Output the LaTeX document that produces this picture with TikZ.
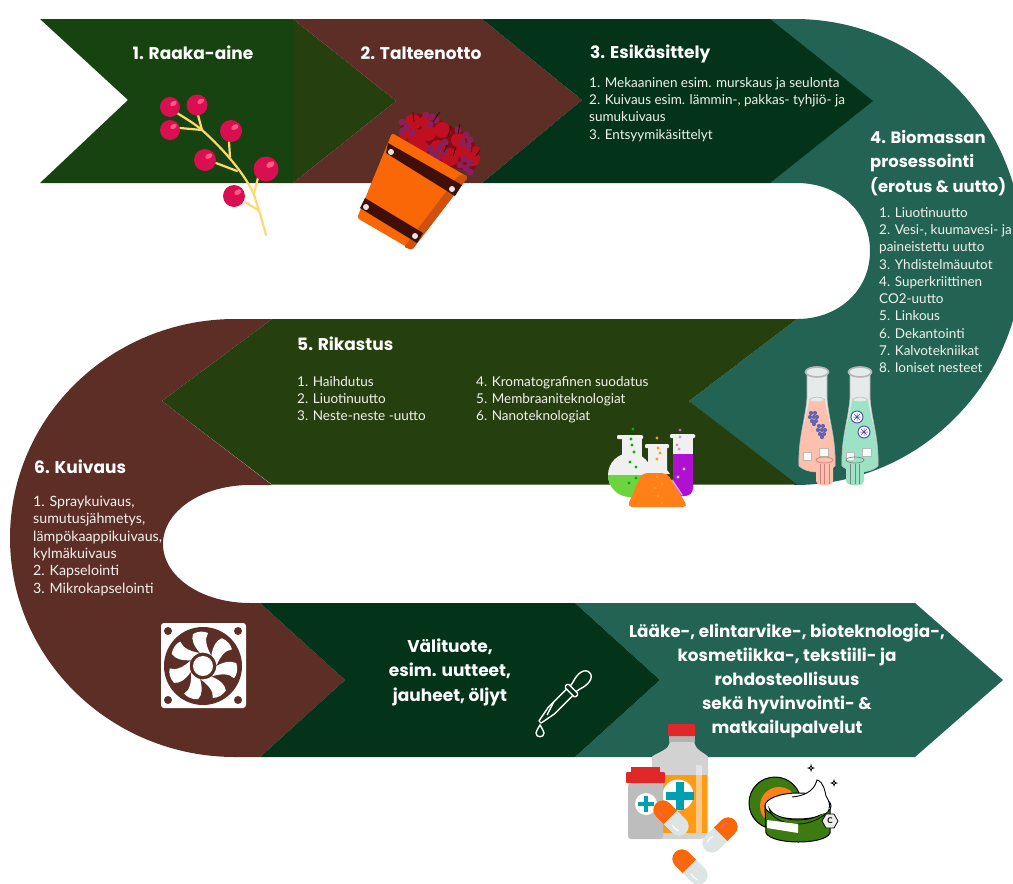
\documentclass[tikz,border=0pt]{standalone}
\usepackage{fontspec}
\setmainfont{Lato}
\newfontfamily\headf{Poppins}
\definecolor{cgreen}{HTML}{16430F}
\definecolor{colive}{HTML}{253F0E}
\definecolor{cbrown}{HTML}{5D2E25}
\definecolor{cdark}{HTML}{03341A}
\definecolor{cteal}{HTML}{236354}
\definecolor{ctext}{HTML}{F2F2EC}
\definecolor{berry}{HTML}{D90F52}
\definecolor{berryhi}{HTML}{FF5C85}
\definecolor{stem}{HTML}{FFD970}
\definecolor{bucket}{HTML}{F96706}
\definecolor{bucketd}{HTML}{D1500F}
\definecolor{strap}{HTML}{3F100A}
\definecolor{apple}{HTML}{C01020}
\definecolor{grape}{HTML}{8A1F5A}
\definecolor{glassw}{HTML}{F0F0F0}
\definecolor{lgreen}{HTML}{6BD43F}
\definecolor{lorange}{HTML}{FF8019}
\definecolor{lpurple}{HTML}{B010D0}
\definecolor{cpink}{HTML}{FDC0AD}
\definecolor{cmint}{HTML}{9BE3C4}
\definecolor{cglass}{HTML}{E6EAEA}
\definecolor{cedge}{HTML}{B5B5B5}
\definecolor{capred}{HTML}{E02828}
\definecolor{bgrey}{HTML}{D2D2D2}
\definecolor{lblor}{HTML}{FF9A14}
\definecolor{cross}{HTML}{00A0B0}
\definecolor{pillor}{HTML}{F96706}
\definecolor{pillg}{HTML}{DCE4E4}
\definecolor{jarg}{HTML}{3D7A10}
\tikzset{
  x=1pt,y=-1pt,
  head/.style={font=\headf\bfseries\fontsize{17}{24.5}\selectfont,text=white,inner sep=0pt,align=left},
  headb/.style={font=\headf\bfseries\fontsize{16.4}{24.5}\selectfont,text=white,inner sep=0pt,align=left},
  headc/.style={font=\headf\bfseries\fontsize{17}{24.5}\selectfont,text=white,inner sep=0pt,align=center},
  body/.style={font=\fontsize{13.5}{17.3}\selectfont,text=ctext,inner sep=0pt,align=left,anchor=north west},
}
\newcommand{\pill}[3]{%
  \begin{scope}[shift={(#1,#2)},rotate=#3]
    \fill[pillg,rounded corners=9.5pt] (-21,-9.5) rectangle (21,9.5);
    \begin{scope}
      \clip (1,-11) rectangle (23,11);
      \fill[pillor,rounded corners=9.5pt] (-21,-9.5) rectangle (21,9.5);
    \end{scope}
    \draw[berryhi,line width=1.2pt,line cap=round] (14,-4) .. controls (11,-5) and (8,-5) .. (6,-4);
    \draw[white,line width=1.2pt,line cap=round] (-14,-4) .. controls (-11,-5) and (-8,-5) .. (-6,-4);
  \end{scope}}
\newcommand{\sparkle}[2]{%
  \fill[black] (#1,#2-4) -- (#1+1,#2-1) -- (#1+4,#2) -- (#1+1,#2+1) -- (#1,#2+4) -- (#1-1,#2+1) -- (#1-4,#2) -- (#1-1,#2-1) -- cycle;
  \fill[white] (#1,#2) circle [radius=0.8];}
\newcommand{\crossmark}[3]{%
  \fill[cross] (#1-#3,#2-#3*0.3) rectangle (#1+#3,#2+#3*0.3);
  \fill[cross] (#1-#3*0.3,#2-#3) rectangle (#1+#3*0.3,#2+#3);}
\newcommand{\carafe}[2]{%
  \begin{scope}[shift={(#1,372)}]
    \fill[cglass] (-10,0) -- (10,0) -- (10,26) .. controls (12,50) and (19,66) .. (18,94) .. controls (10,102) and (-10,102) .. (-18,94) .. controls (-19,66) and (-12,50) .. (-10,26) -- cycle;
    \fill[#2] (-8,28) .. controls (-11,50) and (-19,66) .. (-18,94) .. controls (-10,102) and (10,102) .. (18,94) .. controls (19,66) and (11,50) .. (8,28) .. controls (4,30) and (-4,30) .. (-8,28) -- cycle;
    \draw[cedge,line width=0.6pt] (-10,0) -- (-10,26) .. controls (-12,50) and (-19,66) .. (-18,94) .. controls (-10,102) and (10,102) .. (18,94) .. controls (19,66) and (12,50) .. (10,26) -- (10,0);
    \draw[cedge,line width=0.5pt] (-8,28) .. controls (-4,24) and (4,24) .. (8,28);
    \fill[cglass] (0,0) ellipse [x radius=12,y radius=5.5];
    \draw[cedge,line width=1.6pt] (0,0) ellipse [x radius=11.5,y radius=5];
    \draw[cedge,line width=0.6pt,fill=white,opacity=.9] (-14,80) rectangle (-6,88);
    \draw[cedge,line width=0.6pt,fill=white,opacity=.9] (2,76) rectangle (11,84);
  \end{scope}}
\begin{document}
\begin{tikzpicture}
\useasboundingbox (0,0) rectangle (1013,884);
\clip (0,0) rectangle (1013,884);
\fill[white] (0,0) rectangle (1013,884);

%% ---------- bands ----------
\fill[cgreen] (40,19) -- (293,19) -- (293,183) -- (40,183) -- (128,100) -- cycle;
\fill[colive] (293,19) -- (396,101) -- (293,183) -- cycle;
\fill[cbrown] (293,19) -- (482,19) -- (582,100) -- (482,183) -- (293,183) -- (396,101) -- cycle;
% stage 4 ring
\fill[cteal] (770,19) -- (795,19)
  .. controls (920.9,19) and (1023,123.3) .. (1023,252)
  .. controls (1023,380.7) and (920.9,485) .. (795,485)
  -- (689,401) -- (797,319)
  .. controls (838,319) and (870,291) .. (870,251)
  .. controls (870,211) and (838,183) .. (797,183)
  -- (770,183) -- cycle;
\fill[cdark] (482,19) -- (770,19) -- (873,101) -- (770,183) -- (482,183) -- (582,100) -- cycle;
\fill[colive] (797,319) -- (689,401) -- (797,484.5) -- (272,484.5) -- (162,401) -- (272,319) -- cycle;
% stage 6 ring
\fill[cbrown] (272,319) -- (162,401) -- (272,485) -- (250,485)
  .. controls (202,485) and (163,511) .. (163,544)
  .. controls (163,577) and (202,603) .. (250,603)
  -- (260,603) -- (345,680) -- (260,757) -- (235,757)
  .. controls (111,757) and (10,659) .. (10,538)
  .. controls (10,417) and (111,319) .. (235,319) -- cycle;
\fill[cteal] (575,603) -- (915,603) -- (1003,680) -- (915,757) -- (575,757) -- (660,680) -- cycle;
\fill[cdark] (260,603) -- (575,603) -- (660,680) -- (575,757) -- (260,757) -- (345,680) -- cycle;

%% ---------- berry branch ----------
\begin{scope}[stem,line width=2.2pt,line cap=round]
  \draw (266,235) .. controls (262,220) and (258,207) .. (254,195) .. controls (248,180) and (230,155) .. (202,130) .. controls (195,124) and (185,118) .. (177,113);
  \draw (198,115) -- (202,130) (180,128) -- (202,130);
  \draw (229,142) -- (230,157);
  \draw (216,163) -- (237,171);
  \draw (258,178) -- (254,193);
  \draw (245,202) -- (258,210);
\end{scope}
\foreach \bx/\by/\br in {170/107/10,197/105/10.5,170/130/10,231/131/11,205/160/11,266/169/12.5,234/196/11}{
  \fill[berry] (\bx,\by) circle [radius=\br];
  \fill[berryhi,rotate around={30:(\bx+\br*0.35,\by-\br*0.35)}] (\bx+\br*0.35,\by-\br*0.35) ellipse [x radius=\br*0.35,y radius=\br*0.22];
}

%% ---------- bucket of fruit ----------
\fill[apple!70!black,rounded corners=5pt] (398,128) -- (412,114) -- (432,114) -- (450,126) -- (468,134) -- (480,152) -- (474,172) -- (440,165) -- cycle;
\foreach \gx/\gy/\gr in {417/138/9,413/122/8,450/157/9,442/130/8,463/150/8,473/159/7,428/133/8,458/140/7,405/133/6,425/122/6,438/148/8,422/148/7,476/150/4}{
  \fill[apple] (\gx,\gy) circle [radius=\gr];}
\foreach \gx/\gy in {402/122,407/127,403/131,412/133,426/115,432/117,436/120,430/124,440/146,436/152,430/148,444/152,438/158,432/154,445/142,460/165,466/168,470/163,464/159,470/172,466/135,462/142,470/140,468/146,458/130}{
  \fill[grape] (\gx,\gy) circle [radius=3.6];}
\draw[strap,line width=1pt] (413,112) -- (414,122) (440,112) .. controls (437,115) and (436,118) .. (433,122) (451,126) -- (448,136) (460,124) -- (458,134) (480,150) -- (476,156) (447,145) -- (444,152) (456,147) -- (453,156);
\fill[bucket,rounded corners=2.5pt] (392,133) -- (468,177) -- (412,250) -- (357,218) -- cycle;
\fill[bucketd,rounded corners=2pt] (468,177) -- (412,250) -- (404,247) -- (458,176) -- (463,174) -- cycle;
\fill[strap] (386,153) -- (388,143) -- (462,185) -- (455,196) -- cycle;
\fill[strap] (360,208) -- (365,198) -- (423,233) -- (417,243) -- cycle;
\foreach \rx/\ry in {391/152,452/189,366/207,415/236}{
  \fill[white!90!black] (\rx,\ry) circle [radius=3];}

%% ---------- flasks ----------
\fill[lpurple,rounded corners=8pt] (673,454) rectangle (693,496);
\fill[lpurple] (673,454) rectangle (693,480);
\fill[glassw] (673,437) rectangle (693,454);
\fill[glassw,rounded corners=1pt] (670,434) rectangle (695,438);
\fill[glassw] (630,475) circle [radius=22];
\begin{scope}
  \clip (600,475) rectangle (660,500);
  \fill[lgreen] (630,475) circle [radius=22];
\end{scope}
\fill[glassw] (622,437) rectangle (642,462);
\fill[glassw,rounded corners=1pt] (617,435) rectangle (643,439);
\fill[glassw] (648,446) -- (667,446) -- (667,470) -- (670,474) -- (642,474) -- (648,467) -- cycle;
\fill[glassw,rounded corners=1pt] (645,444) rectangle (669,448);
\fill[lorange,rounded corners=5pt] (642,473) -- (667,473) -- (688,507) -- (627,507) -- cycle;
\draw[white,opacity=.6,line width=1.5pt,line cap=round] (672,480) -- (682,495);
\foreach \dx/\dy/\dc in {633/429/green!70!black,631/439/green!70!black,632/445/green!70!black,634/452/green!70!black,630/462/green!70!black,636/467/green!70!black,629/483/green!70!black,636/478/green!70!black,657/438/lblor,658/448/lblor,660/453/lblor,657/459/lblor,657/477/lblor,662/484/lblor,655/488/lblor,658/496/lblor,662/503/lblor,680/430/violet!60,680/437/violet!40,677/445/violet!40,679/449/violet!40,684/469/violet!20,678/477/violet!20}{
  \fill[\dc] (\dx,\dy) circle [radius=1.6];}

%% ---------- carafes ----------
\carafe{817}{cpink}
\carafe{860}{cmint}
\foreach \ax/\ay in {814/418,822/431}{
  \foreach \ox/\oy in {-3/-5,1/-5,-4/-1,0/-1,3/-1,-2/3,2/3,0/6}{
    \fill[blue!35!gray!90] (\ax+\ox,\ay+\oy) circle [radius=2.1];}}
\foreach \ax/\ay in {857/417,864/432}{
  \fill[white] (\ax,\ay) circle [radius=6];
  \draw[gray!60!blue,line width=0.9pt] (\ax,\ay) circle [radius=6];
  \draw[gray!60!blue,line width=0.5pt] (\ax-4,\ay) -- (\ax+4,\ay) (\ax,\ay-4) -- (\ax,\ay+4) (\ax-3,\ay-3) -- (\ax+3,\ay+3) (\ax-3,\ay+3) -- (\ax+3,\ay-3);
}
\fill[cpink,rounded corners=2pt] (816,460) -- (833,460) -- (833,483) .. controls (828,486) and (821,486) .. (816,483) -- cycle;
\draw[cedge!70!red,line width=0.7pt] (824.5,460) ellipse [x radius=8.5,y radius=3];
\foreach \lx in {820,824.5,829}{\draw[cedge!70!red,line width=0.5pt] (\lx,464) -- (\lx,484);}
\fill[cmint,rounded corners=2pt] (846,460) -- (864,460) -- (864,483) .. controls (859,486) and (852,486) .. (846,483) -- cycle;
\draw[gray,line width=0.7pt] (855,460) ellipse [x radius=9,y radius=3];
\foreach \lx in {850.5,855,859.5}{\draw[gray,line width=0.5pt] (\lx,464) -- (\lx,484);}

%% ---------- fan ----------
\fill[white,rounded corners=3pt] (161,623) rectangle (246,708);
\foreach \hx/\hy in {168/631,238/631,168/700,238/700}{
  \fill[cbrown] (\hx,\hy) circle [radius=4];}
\fill[cbrown] (203,666) circle [radius=39];
\fill[white] (203,666) circle [radius=10];
\foreach \ang in {0,51.43,102.86,154.29,205.71,257.14,308.57}{
  \begin{scope}[shift={(203,666)},rotate=\ang]
    \fill[white] (-3,-13) .. controls (-9,-20) and (-12,-26) .. (-10,-32)
       .. controls (-5,-35) and (1,-35) .. (5,-33)
       .. controls (1,-27) and (4,-18) .. (8,-11)
       .. controls (4,-13) and (0,-14) .. (-3,-13) -- cycle;
  \end{scope}}

%% ---------- pipette ----------
\begin{scope}[shift={(540,722)},rotate=45,white,line width=1.4pt,line join=round]
  \draw (0,-1.5) -- (16,-4.5) -- (42,-4.5) (0,1.5) -- (16,4.5) -- (42,4.5) (0,-1.5) -- (0,1.5);
  \draw (10,0) -- (24,-4.5);
  \draw[rounded corners=1.5pt] (42,-7.5) rectangle (47,7.5);
  \draw (47,-4) -- (52,-5) .. controls (60,-8) and (70,-7) .. (70,0) .. controls (70,7) and (60,8) .. (52,5) -- (47,4);
\end{scope}
\draw[white,line width=1.4pt] (540,725) .. controls (537,730) and (536,732) .. (536,733) .. controls (536,738) and (544,738) .. (544,733) .. controls (544,732) and (543,730) .. (540,725) -- cycle;

%% ---------- medicine ----------
\fill[bgrey,rounded corners=8pt] (652,839) -- (652,765) .. controls (652,755) and (668,750) .. (670,737) -- (694,737) .. controls (696,750) and (708,755) .. (708,765) -- (708,839) -- cycle;
\fill[bgrey!85!black] (669,736) rectangle (695,742);
\fill[lblor] (663,775) rectangle (707,833);
\fill[white!80!bgrey,opacity=.5] (696,765) rectangle (702,833);
\fill[capred,rounded corners=1pt] (668,724) rectangle (695,736);
\fill[white] (678,795) circle [radius=15.5];
\crossmark{680}{796}{14}
\fill[bgrey!90!black,rounded corners=3pt] (628,783) rectangle (663,839);
\fill[capred] (631,767) rectangle (660,773);
\fill[capred,rounded corners=1pt] (626,772) rectangle (665,783);
\fill[white] (646,804) circle [radius=11];
\crossmark{646}{804}{8}
\pill{671}{818}{135}
\pill{720}{835}{45}
\pill{690}{867}{135}

%% ---------- cream jar ----------
\draw[black,line width=1pt,fill=jarg] (775,803) circle [radius=26];
\fill[lorange] (779,806) circle [radius=19];
\draw[black,line width=1pt,fill=jarg] (765,806) -- (830,806) -- (830,833) .. controls (825,845) and (772,845) .. (766,833) -- cycle;
\draw[black,line width=1pt,fill=white] (798,806) ellipse [x radius=33,y radius=13];
\draw[black,line width=0.7pt,fill=jarg] (769,808) .. controls (772,815) and (785,820) .. (798,820) .. controls (812,820) and (825,815) .. (829,806) .. controls (830,815) and (812,824) .. (798,824) .. controls (782,824) and (770,817) .. (769,808) -- cycle;
\fill[white] (793,797) .. controls (803,796) and (814,792) .. (817,780) .. controls (824,782) and (825,792) .. (826,796) .. controls (830,802) and (830,808) .. (827,812) .. controls (815,818) and (785,818) .. (770,806) .. controls (775,801) and (785,799) .. (793,797) -- cycle;
\draw[black,line width=0.9pt] (792,797) .. controls (803,796) and (814,792) .. (817,780) .. controls (824,782) and (825,792) .. (826,796) .. controls (830,802) and (830,806) .. (829,808);
\fill[white] (767,820) -- (798,824) -- (798,833) -- (767,828) -- cycle;
\draw[black,line width=0.8pt,fill=white!85!gray] (838,821) -- (834,828) -- (826,828) -- (822,821) -- (826,814) -- (834,814) -- cycle;
\node[font=\bfseries\fontsize{8}{8}\selectfont,inner sep=0pt] (jarc) at (830,821) {C};
\sparkle{811}{768}
\sparkle{834}{783}

%% ---------- text ----------
\node[head] (t1) at (193,53) {1. Raaka-aine};
\node[head] (t2) at (421,53) {2. Talteenotto};
\node[head,anchor=west] (t3) at (590,54) {3. Esikäsittely};
\node[body] (b3) at (589,77) {1. Mekaaninen esim. murskaus ja seulonta\\2. Kuivaus esim. lämmin-, pakkas- tyhjiö- ja\\sumukuivaus\\3. Entsyymikäsittelyt};
\node[headb,anchor=north west] (t4) at (870,130) {4. Biomassan\\prosessointi\\(erotus \& uutto)};
\node[body] (b4) at (879,207) {1. Liuotinuutto\\2. Vesi-, kuumavesi- ja\\paineistettu uutto\\3. Yhdistelmäuutot\\4. Superkriittinen\\CO2-uutto\\5. Linkous\\6. Dekantointi\\7. Kalvotekniikat\\8. Ioniset nesteet};
\node[head,anchor=west] (t5) at (297,344) {5. Rikastus};
\node[body] (b5a) at (297,376) {1. Haihdutus\\2. Liuotinuutto\\3. Neste-neste -uutto};
\node[body] (b5b) at (476,376) {4. Kromatografinen suodatus\\5. Membraaniteknologiat\\6. Nanoteknologiat};
\node[head,anchor=west] (t6) at (34,467) {6. Kuivaus};
\node[body,font=\fontsize{14.2}{17.3}\selectfont] (b6) at (33,496) {1. Spraykuivaus,\\sumutusjähmetys,\\lämpökaappikuivaus,\\kylmäkuivaus\\2. Kapselointi\\3. Mikrokapselointi};
\node[headc] (t7) at (450,672) {Välituote,\\esim. uutteet,\\jauheet, öljyt};
\node[headc,font=\headf\bfseries\fontsize{16.8}{24}\selectfont] (t8) at (787,681) {Lääke-, elintarvike-, bioteknologia-,\\kosmetiikka-, tekstiili- ja\\rohdosteollisuus\\sekä hyvinvointi- \&\\matkailupalvelut};
\end{tikzpicture}
\end{document}
